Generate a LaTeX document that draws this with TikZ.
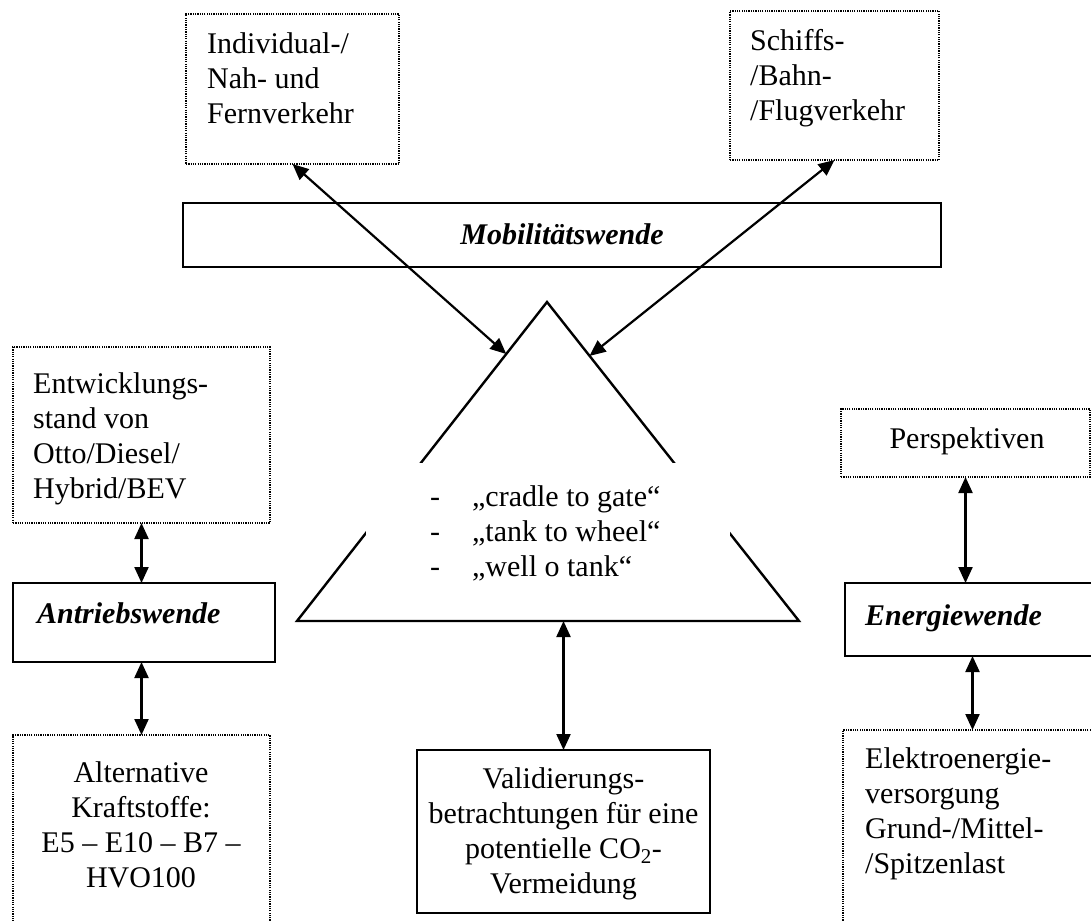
\documentclass[tikz,border=0pt]{standalone}
\usepackage{fontspec}
\setmainfont{Liberation Serif}
\usetikzlibrary{arrows.meta,calc}
\begin{document}
\begin{tikzpicture}[x=1pt,y=-1pt,
  font=\fontsize{30}{35}\selectfont,
  sbox/.style={draw, line width=2.6pt, inner sep=0pt, outer sep=0pt, anchor=north west},
  dbox/.style={draw, line width=1.6pt, dash pattern=on 1.2pt off 1.1pt, inner sep=0pt, outer sep=0pt, anchor=north west},
  txt/.style={inner sep=0pt, anchor=north west, align=left},
  ctxt/.style={inner sep=0pt, anchor=north, align=center},
  tri/.style={draw, line width=2.4pt, line join=miter},
  arr/.style={line width=2.2pt, {Triangle[length=16pt,width=14pt]}-{Triangle[length=16pt,width=14pt]}}]
\useasboundingbox (0,0) rectangle (1091,920);
\clip (0,0) rectangle (1091,920);

% boxes
\node[dbox, minimum width=213pt, minimum height=150pt] (tl) at (186,14) {};
\node[txt] (tltext) at (207,32) {Individual-/\\Nah- und\\Fernverkehr};

\node[dbox, minimum width=209pt, minimum height=149pt] (tr) at (730,11) {};
\node[txt] (trtext) at (750,29) {Schiffs-\\/Bahn-\\/Flugverkehr};

\node[sbox, minimum width=758pt, minimum height=64pt] (mob) at (183,203) {};
\node[inner sep=0pt] (mobtext) at (562,234) {\bfseries\itshape Mobilitätswende};

\node[dbox, minimum width=257pt, minimum height=176pt] (ent) at (13,347) {};
\node[txt] (enttext) at (33,372) {Entwicklungs-\\stand von\\Otto/Diesel/\\Hybrid/BEV};

\node[sbox, minimum width=262pt, minimum height=79pt] (ant) at (13,583) {};
\node[txt] (anttext) at (37,602) {\bfseries\itshape Antriebswende};

\node[dbox, minimum width=257pt, minimum height=200pt] (alt) at (13,735) {};
\node[ctxt] (alttext) at (141,761) {Alternative\\Kraftstoffe:\\E5 – E10 – B7 –\\HVO100};

\node[sbox, minimum width=293pt, minimum height=163pt] (val) at (417,750) {};
\node[ctxt] (valtext) at (563.5,767) {Validierungs-\\betrachtungen für eine\\potentielle CO\textsubscript{2}-\\Vermeidung};

\node[dbox, minimum width=249pt, minimum height=68pt] (per) at (841,409) {};
\node[ctxt] (pertext) at (967,427) {Perspektiven};

\node[sbox, minimum width=255pt, minimum height=73pt] (ene) at (845,583) {};
\node[txt] (enetext) at (865,604) {\bfseries\itshape Energiewende};

\node[dbox, minimum width=255pt, minimum height=200pt] (ele) at (843,730) {};
\node[txt] (eletext) at (865,747) {Elektroenergie-\\versorgung\\Grund-/Mittel-\\/Spitzenlast};

% triangle
\coordinate (apex) at (547,302);
\coordinate (bl) at (297,621);
\coordinate (br) at (799,621);
\draw[tri] (apex) -- (bl) -- (br) -- cycle;
\node[fill=white, inner sep=0pt, outer sep=0pt, minimum width=364pt, minimum height=118pt, anchor=north west] (cover) at (366,463) {};
\node[txt] (steps) at (430,485) {\makebox[42pt][l]{-}„cradle to gate“\\\makebox[42pt][l]{-}„tank to wheel“\\\makebox[42pt][l]{-}„well o tank“};

% connectors
\coordinate (tlend) at ($(apex)!0.163!(bl)$);
\coordinate (trend) at ($(apex)!0.169!(br)$);
\draw[arr] (tl.south) -- (tlend);
\draw[arr] (tr.south) -- (trend);
\draw[arr] (ent.south) -- (ent.south |- ant.north);
\draw[arr] (ant.south -| alt.north) -- (alt.north);
\draw[arr] (per.south) -- (per.south |- ene.north);
\draw[arr] (ene.south) -- (ene.south |- ele.north);
\draw[arr] (val.north |- bl) -- (val.north);
\end{tikzpicture}
\end{document}
